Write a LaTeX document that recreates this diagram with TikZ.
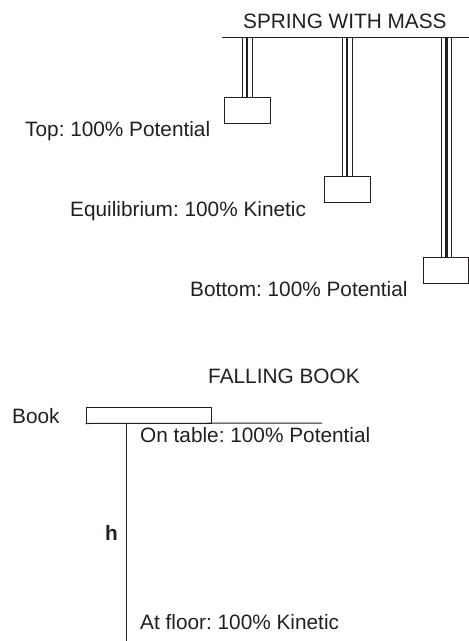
\documentclass[tikz,border=0pt]{standalone}
\usepackage{fontspec}
\setmainfont{Liberation Sans}
\frenchspacing
\definecolor{ink}{HTML}{231F20}
\begin{document}
\begin{tikzpicture}[x=1pt,y=-1pt,
  txt/.style={anchor=base west,inner sep=0pt,font=\fontsize{20.8}{24}\selectfont\frenchspacing,text=ink},
  mass/.style={draw=ink,line width=1pt,minimum width=46pt,minimum height=26pt,inner sep=0pt},
  thin/.style={draw=ink,line width=0.9pt},
  thick/.style={draw=ink,line width=2.8pt},
  ln/.style={draw=ink,line width=1pt}]
\useasboundingbox (0,0) rectangle (469,641);
% spring with mass
\node[txt] (st) at (243,28.3) {SPRING WITH MASS};
\coordinate (barL) at (222,37);
\coordinate (barR) at (469,37);
\draw[ln] (barL) -- (barR);
\node[mass] (m1) at (247,110) {};
\node[mass] (m2) at (347,189.5) {};
\node[mass,minimum width=45pt] (m3) at (446,270) {};
\foreach \m/\cx in {m1/247,m2/347,m3/446.5}{
  \draw[thin] (\cx-5,37) -- (\cx-5,0 |- \m.north);
  \draw[thick] (\cx,37) -- (\cx,0 |- \m.north);
  \draw[thin] (\cx+5,37) -- (\cx+5,0 |- \m.north);
}
\node[txt] (l1) at (25,136) {Top: 100\% Potential};
\node[txt] (l2) at (70,216.7) {Equilibrium: 100\% Kinetic};
\node[txt] (l3) at (190,296.7) {Bottom: 100\% Potential};
% falling book
\node[txt] (fb) at (208,383.3) {FALLING BOOK};
\node[txt] (bk) at (12,423) {Book};
\node[draw=ink,line width=1pt,minimum width=125pt,minimum height=16pt,inner sep=0pt] (book) at (148.5,415) {};
\coordinate (tabR) at (322,423);
\draw[ln] (book.south west) -- (tabR);
\coordinate (top) at (126,423);
\coordinate (floor) at (126,641);
\draw[ln] (top) -- (floor);
\node[txt] (ot) at (140,442) {On table: 100\% Potential};
\node[txt,font=\fontsize{20.8}{24}\selectfont\bfseries] (h) at (105,540.7) {h};
\node[txt] (af) at (140,629) {At floor: 100\% Kinetic};
\end{tikzpicture}
\end{document}
